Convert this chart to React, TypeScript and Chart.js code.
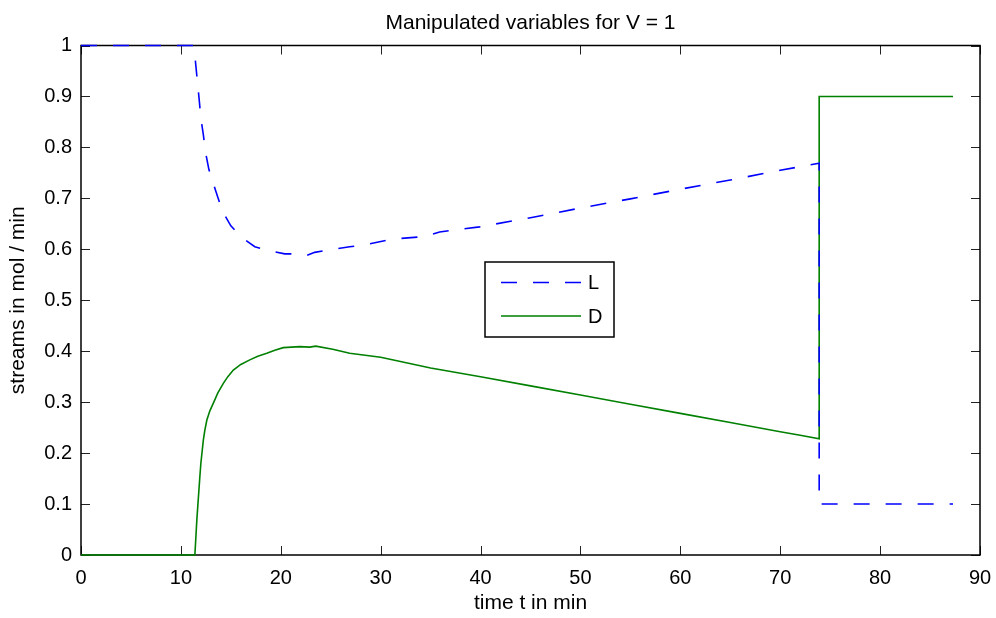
import React, { useEffect, useRef } from "react";
import { Chart, registerables } from "chart.js";

Chart.register(...registerables);

const titleText = "Manipulated variables for V = 1";
const xAxisTitle = "time t in min";
const yAxisTitle = "streams in mol / min";

const xTicks = [0, 10, 20, 30, 40, 50, 60, 70, 80, 90];
const xTickLabels = ["0", "10", "20", "30", "40", "50", "60", "70", "80", "90"];
const yTicks = [0, 0.1, 0.2, 0.3, 0.4, 0.5, 0.6, 0.7, 0.8, 0.9, 1];
const yTickLabels = ["0", "0.1", "0.2", "0.3", "0.4", "0.5", "0.6", "0.7", "0.8", "0.9", "1"];

const seriesLabels = ["L", "D"];

const lTime = [0, 11.3, 11.45, 11.7, 11.86, 12.0, 12.24, 12.5, 12.8, 13.18, 13.68, 14.18, 15.0, 16.1, 17.4, 18.9, 20.4, 21.9, 22.6, 23.4, 25.2, 26.9, 28.2, 31.2, 34.4, 35.9, 39.9, 45, 50, 55, 60, 65, 70, 73.9, 73.9, 87.3];
const lValues = [1, 1, 0.97, 0.92, 0.888, 0.857, 0.826, 0.787, 0.757, 0.733, 0.703, 0.674, 0.646, 0.623, 0.605, 0.597, 0.591, 0.591, 0.588, 0.594, 0.6, 0.605, 0.608, 0.62, 0.625, 0.634, 0.644, 0.662, 0.681, 0.699, 0.718, 0.736, 0.755, 0.769, 0.1, 0.1];

const dTime = [0, 11.4, 11.6, 11.9, 12.0, 12.25, 12.4, 12.6, 12.9, 13.25, 13.7, 14.25, 14.7, 15.25, 16.0, 16.9, 17.7, 18.6, 19.4, 20.25, 21.9, 22.9, 23.5, 25.2, 26.9, 30, 35, 40, 45, 50, 55, 60, 65, 70, 72, 73.9, 73.9, 87.3];
const dValues = [0, 0, 0.07, 0.154, 0.18, 0.226, 0.245, 0.265, 0.283, 0.298, 0.318, 0.337, 0.35, 0.363, 0.374, 0.383, 0.39, 0.396, 0.402, 0.407, 0.409, 0.408, 0.41, 0.404, 0.396, 0.388, 0.367, 0.35, 0.332, 0.314, 0.296, 0.278, 0.26, 0.242, 0.235, 0.228, 0.9, 0.9];

const FONT = "'Liberation Sans', Arial, Helvetica, sans-serif";
const L_COLOR = "#0000ff";
const D_COLOR = "#008000";

const framePlugin = {
  id: "matlabFrame",
  beforeDatasetsDraw(chart: any) {
    const { ctx, chartArea } = chart;
    const { left, right, top, bottom } = chartArea;
    const xs = chart.scales.x;
    const ys = chart.scales.y;
    const tl = 9;
    ctx.save();
    ctx.strokeStyle = "#222";
    ctx.lineWidth = 1;
    ctx.beginPath();
    for (const v of xTicks) {
      const px = Math.round(xs.getPixelForValue(v)) + 0.5;
      ctx.moveTo(px, bottom);
      ctx.lineTo(px, bottom - tl);
      ctx.moveTo(px, top);
      ctx.lineTo(px, top + tl);
    }
    for (const v of yTicks) {
      const py = Math.round(ys.getPixelForValue(v)) + 0.5;
      ctx.moveTo(left, py);
      ctx.lineTo(left + tl, py);
      ctx.moveTo(right, py);
      ctx.lineTo(right - tl, py);
    }
    ctx.stroke();
    ctx.strokeStyle = "#000";
    ctx.lineWidth = 1.5;
    ctx.strokeRect(left, top, right - left, bottom - top);
    ctx.restore();
  },
  afterDraw(chart: any) {
    const { ctx, chartArea } = chart;
    ctx.save();
    ctx.fillStyle = "#000";
    ctx.font = `21px ${FONT}`;
    ctx.textAlign = "center";
    ctx.textBaseline = "alphabetic";
    ctx.fillText(titleText, (chartArea.left + chartArea.right) / 2, 29);
    const bx = 485, by = 262, bw = 129, bh = 75;
    ctx.fillStyle = "#fff";
    ctx.fillRect(bx, by, bw, bh);
    ctx.strokeStyle = "#000";
    ctx.lineWidth = 1.5;
    ctx.strokeRect(bx, by, bw, bh);
    const rows = [
      { y: by + 20.5, color: L_COLOR, dash: [16, 16] },
      { y: by + 54, color: D_COLOR, dash: [] as number[] },
    ];
    rows.forEach((r, i) => {
      ctx.beginPath();
      ctx.setLineDash(r.dash);
      ctx.strokeStyle = r.color;
      ctx.lineWidth = 1.5;
      ctx.moveTo(bx + 16, r.y);
      ctx.lineTo(bx + 96, r.y);
      ctx.stroke();
      ctx.setLineDash([]);
      ctx.fillStyle = "#000";
      ctx.font = `20px ${FONT}`;
      ctx.textAlign = "left";
      ctx.textBaseline = "middle";
      ctx.fillText(chart.data.datasets[i].label, bx + 103, r.y + 1);
    });
    ctx.restore();
  },
};

export default function App() {
  const canvasRef = useRef<HTMLCanvasElement | null>(null);

  useEffect(() => {
    const canvas = canvasRef.current;
    if (!canvas) return;
    const chart = new Chart(canvas, {
      type: "line",
      data: {
        datasets: [
          {
            label: seriesLabels[0],
            data: lTime.map((t, i) => ({ x: t, y: lValues[i] })),
            borderColor: L_COLOR,
            borderWidth: 1.6,
            borderDash: [16, 16],
            pointRadius: 0,
            fill: false,
            tension: 0,
            clip: false as any,
          },
          {
            label: seriesLabels[1],
            data: dTime.map((t, i) => ({ x: t, y: dValues[i] })),
            borderColor: D_COLOR,
            borderWidth: 1.6,
            pointRadius: 0,
            fill: false,
            tension: 0,
            clip: false as any,
          },
        ],
      },
      options: {
        responsive: false,
        animation: false,
        devicePixelRatio: 1,
        layout: { padding: { top: 45.5, right: 16, left: 0, bottom: 0 } },
        plugins: {
          legend: { display: false },
          title: { display: false },
          tooltip: { enabled: false },
        },
        scales: {
          x: {
            type: "linear",
            min: 0,
            max: 90,
            afterBuildTicks: (s: any) => {
              s.ticks = xTicks.map((v) => ({ value: v }));
            },
            afterFit: (s: any) => {
              s.height = 63;
              s.paddingLeft = 0;
              s.paddingRight = 0;
            },
            grid: { display: false, drawTicks: false },
            border: { display: false },
            ticks: {
              color: "#000",
              font: { family: FONT, size: 20 },
              padding: 11,
              maxRotation: 0,
              autoSkip: false,
              callback: (v: any) => {
                const i = xTicks.indexOf(Number(v));
                return i >= 0 ? xTickLabels[i] : "";
              },
            },
            title: {
              display: true,
              text: xAxisTitle,
              color: "#000",
              font: { family: FONT, size: 21 },
              padding: { top: 0, bottom: 2 },
            },
          },
          y: {
            type: "linear",
            min: 0,
            max: 1,
            afterBuildTicks: (s: any) => {
              s.ticks = yTicks.map((v) => ({ value: v }));
            },
            afterFit: (s: any) => {
              s.width = 81;
              s.paddingTop = 0;
              s.paddingBottom = 0;
            },
            grid: { display: false, drawTicks: false },
            border: { display: false },
            ticks: {
              color: "#000",
              font: { family: FONT, size: 20 },
              padding: 9,
              autoSkip: false,
              callback: (v: any) => {
                const n = Number(v);
                const i = yTicks.findIndex((t) => Math.abs(t - n) < 1e-9);
                return i >= 0 ? yTickLabels[i] : "";
              },
            },
            title: {
              display: true,
              text: yAxisTitle,
              color: "#000",
              font: { family: FONT, size: 21 },
              padding: { top: 6, bottom: 0 },
            },
          },
        },
      },
      plugins: [framePlugin],
    });
    return () => chart.destroy();
  }, []);

  return (
    <div style={{ position: "fixed", left: 0, top: 0, width: 996, height: 618, background: "#fff" }}>
      <canvas ref={canvasRef} width={996} height={618} style={{ display: "block", width: 996, height: 618 }} />
    </div>
  );
}
